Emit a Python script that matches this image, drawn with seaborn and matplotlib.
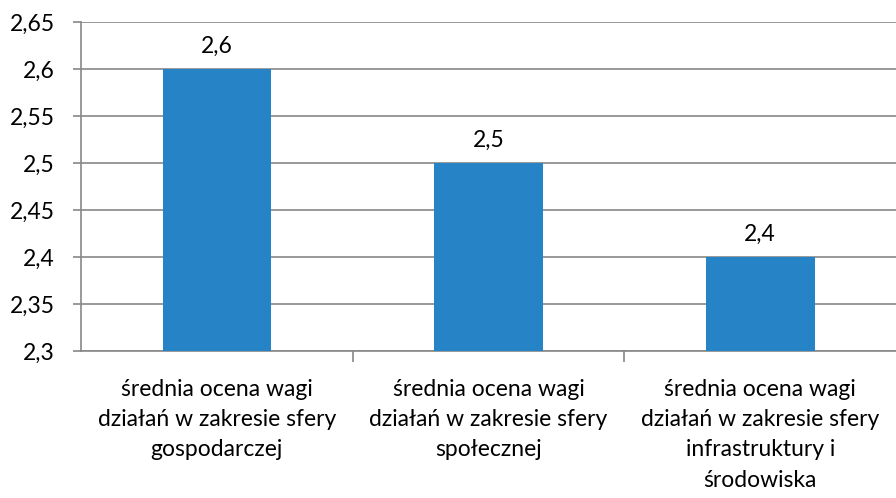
import matplotlib
matplotlib.use("Agg")
import matplotlib.pyplot as plt
import seaborn as sns
import pandas as pd

# dane z wykresu
kategorie = [
    "średnia ocena wagi\ndziałań w zakresie sfery\ngospodarczej",
    "średnia ocena wagi\ndziałań w zakresie sfery\nspołecznej",
    "średnia ocena wagi\ndziałań w zakresie sfery\ninfrastruktury i\nśrodowiska",
]
wartosci = [2.6, 2.5, 2.4]
y_ticks = [2.3, 2.35, 2.4, 2.45, 2.5, 2.55, 2.6, 2.65]

df = pd.DataFrame({"kategoria": kategorie, "wartosc": wartosci})

sns.set_theme(style="white")
plt.rcParams["font.family"] = ["Lato", "DejaVu Sans"]

fs = 16.5
fig = plt.figure(figsize=(8.96, 4.98), dpi=100)
ax = fig.add_axes([81 / 896, 1 - 351 / 498, 1 - 81 / 896, (351 - 22) / 498])

sns.barplot(data=df, x="kategoria", y="wartosc", color="#2683C6",
            saturation=1, width=0.4, linewidth=0, ax=ax, zorder=3)

ax.set_ylim(2.3, 2.65)
ax.set_xlim(-0.5, 2.5)
ax.set_yticks(y_ticks)
ax.set_yticklabels([f"{v:g}".replace(".", ",") for v in y_ticks], fontsize=fs, color="black")
ax.yaxis.grid(True, color="#888888", linewidth=1.2, zorder=0)
ax.set_axisbelow(True)

ax.set_xticks([0, 1, 2])
ax.set_xticklabels(kategorie, fontsize=fs, linespacing=1.55, color="black")
ax.set_xlabel("")
ax.set_ylabel("")

for s in ["top", "right"]:
    ax.spines[s].set_visible(False)
for s in ["left", "bottom"]:
    ax.spines[s].set_color("#888888")
    ax.spines[s].set_linewidth(1.2)

ax.tick_params(axis="y", which="major", left=True, length=6, width=1.2, color="#888888", pad=13)
ax.tick_params(axis="x", which="major", bottom=False, pad=14)
# kreski miedzy kategoriami
ax.set_xticks([0.5, 1.5], minor=True)
ax.tick_params(axis="x", which="minor", bottom=True, length=8, width=1.2, color="#888888")

for p, v in zip(ax.patches, wartosci):
    ax.text(p.get_x() + p.get_width() / 2, v + 0.013, f"{v:g}".replace(".", ","),
            ha="center", va="bottom", fontsize=fs, color="black")

fig.savefig("out.png", dpi=100)
